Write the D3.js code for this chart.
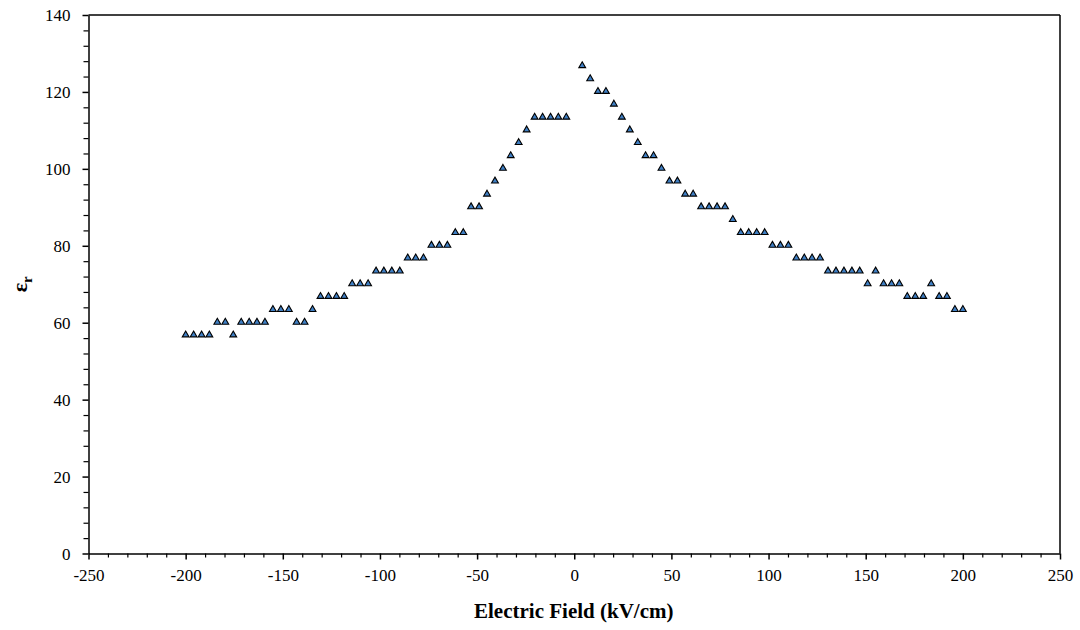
<!DOCTYPE html>
<html>
<head>
<meta charset="utf-8">
<script src="https://cdn.jsdelivr.net/npm/d3@7"></script>
<style>
  html, body { margin: 0; padding: 0; background: #fff; }
  #chart text { font-family: "Liberation Serif" !important; }
</style>
</head>
<body>
<svg id="chart" width="1080" height="630"></svg>
<script>
// Applied field sweep (kV/cm), negative branch
const fieldNeg = [-200, -195.9, -191.8, -187.8, -183.7, -179.6, -175.5, -171.4, -167.3, -163.3,
  -159.2, -155.1, -151.0, -146.9, -142.9, -138.8, -134.7, -130.6, -126.5, -122.4,
  -118.4, -114.3, -110.2, -106.1, -102.0, -98.0, -93.9, -89.8, -85.7, -81.6,
  -77.6, -73.5, -69.4, -65.3, -61.2, -57.1, -53.1, -49.0, -44.9, -40.8,
  -36.7, -32.7, -28.6, -24.5, -20.4, -16.3, -12.2, -8.2, -4.1];
// Relative permittivity on the negative branch
const epsNeg = [56.7, 56.7, 56.7, 56.7, 60.0, 60.0, 56.7, 60.0, 60.0, 60.0,
  60.0, 63.3, 63.3, 63.3, 60.0, 60.0, 63.3, 66.7, 66.7, 66.7,
  66.7, 70.0, 70.0, 70.0, 73.3, 73.3, 73.3, 73.3, 76.7, 76.7,
  76.7, 80.0, 80.0, 80.0, 83.3, 83.3, 90.0, 90.0, 93.3, 96.7,
  100.0, 103.3, 106.7, 110.0, 113.3, 113.3, 113.3, 113.3, 113.3];

// Applied field sweep (kV/cm), positive branch
const fieldPos = [4.1, 8.2, 12.2, 16.3, 20.4, 24.5, 28.6, 32.7, 36.7, 40.8,
  44.9, 49.0, 53.1, 57.1, 61.2, 65.3, 69.4, 73.5, 77.6, 81.6,
  85.7, 89.8, 93.9, 98.0, 102.0, 106.1, 110.2, 114.3, 118.4, 122.4,
  126.5, 130.6, 134.7, 138.8, 142.9, 146.9, 151.0, 155.1, 159.2, 163.3,
  167.3, 171.4, 175.5, 179.6, 183.7, 187.8, 191.8, 195.9, 200];
// Relative permittivity on the positive branch
const epsPos = [126.7, 123.3, 120.0, 120.0, 116.7, 113.3, 110.0, 106.7, 103.3, 103.3,
  100.0, 96.7, 96.7, 93.3, 93.3, 90.0, 90.0, 90.0, 90.0, 86.7,
  83.3, 83.3, 83.3, 83.3, 80.0, 80.0, 80.0, 76.7, 76.7, 76.7,
  76.7, 73.3, 73.3, 73.3, 73.3, 73.3, 70.0, 73.3, 70.0, 70.0,
  70.0, 66.7, 66.7, 66.7, 70.0, 66.7, 66.7, 63.3, 63.3];

// Axis ticks
const xTicks = [-250, -200, -150, -100, -50, 0, 50, 100, 150, 200, 250];
const yTicks = [0, 20, 40, 60, 80, 100, 120, 140];

const xTitle = "Electric Field (kV/cm)";

const points = fieldNeg.map((f, i) => ({ x: f, y: epsNeg[i] }))
  .concat(fieldPos.map((f, i) => ({ x: f, y: epsPos[i] })));

const svg = d3.select("#chart");
const plotL = 88.5, plotR = 1060, plotT = 15, plotB = 553.5;

const x = d3.scaleLinear().domain([-250, 250]).range([plotL, plotR]);
const y = d3.scaleLinear().domain([0, 140]).range([plotB, plotT]);

// Minor ticks
const xMinor = d3.range(-250, 251, 10).filter(v => !xTicks.includes(v));
const yMinor = d3.range(0, 141, 4).filter(v => !yTicks.includes(v));

svg.append("g")
  .attr("transform", `translate(0,${plotB})`)
  .call(d3.axisBottom(x).tickValues(xMinor).tickSize(4).tickFormat(""))
  .call(g => g.select(".domain").remove())
  .call(g => g.selectAll("text").remove())
  .selectAll("line").attr("stroke", "#000").attr("stroke-width", 1.2);

svg.append("g")
  .attr("transform", `translate(${plotL},0)`)
  .call(d3.axisLeft(y).tickValues(yMinor).tickSize(5).tickFormat(""))
  .call(g => g.select(".domain").remove())
  .call(g => g.selectAll("text").remove())
  .selectAll("line").attr("stroke", "#000").attr("stroke-width", 1.2);

// Major axes
const xAxis = svg.append("g")
  .attr("transform", `translate(0,${plotB})`)
  .call(d3.axisBottom(x).tickValues(xTicks).tickSize(6).tickPadding(9).tickSizeOuter(0).tickFormat(d => String(d)));
const yAxis = svg.append("g")
  .attr("transform", `translate(${plotL},0)`)
  .call(d3.axisLeft(y).tickValues(yTicks).tickSize(6).tickPadding(12).tickSizeOuter(0).tickFormat(d => String(d)));

[xAxis, yAxis].forEach(g => {
  g.attr("font-family", "Liberation Serif").attr("font-size", 17);
  g.select(".domain").attr("stroke", "#000").attr("stroke-width", 1.5);
  g.selectAll(".tick line").attr("stroke", "#000").attr("stroke-width", 1.5);
  g.selectAll(".tick text")
    .attr("fill", "#000")
    .attr("font-family", "Liberation Serif")
    .style("font-family", d => `"Liberation Serif"`)
    .style("font-size", "17px");
});
xAxis.selectAll(".tick text").attr("dy", "0.71em");
yAxis.selectAll(".tick text").attr("dy", "0.35em");

// Top and right frame
svg.append("line").attr("x1", plotL).attr("x2", plotR).attr("y1", plotT).attr("y2", plotT)
  .attr("stroke", "#000").attr("stroke-width", 1.5);
svg.append("line").attr("x1", plotR).attr("x2", plotR).attr("y1", plotT).attr("y2", plotB)
  .attr("stroke", "#000").attr("stroke-width", 1.5);

// Data markers: small triangles
const tri = d3.symbol().type(d3.symbolTriangle).size(20);
svg.append("g").selectAll("path")
  .data(points)
  .join("path")
  .attr("d", tri)
  .attr("transform", d => `translate(${x(d.x)},${y(d.y) - 0.5})`)
  .attr("fill", "#3f7fc4")
  .attr("stroke", "#000")
  .attr("stroke-width", 1.1)
  .attr("stroke-linejoin", "miter");

// Axis titles
svg.append("text")
  .attr("x", (plotL + plotR) / 2 - 0.5)
  .attr("y", 618)
  .attr("text-anchor", "middle")
  .attr("font-family", "Liberation Serif")
  .style("font-family", d => `"Liberation Serif"`)
  .style("font-size", "21px")
  .style("font-weight", "bold")
  .text(xTitle);

const yTitle = svg.append("text")
  .attr("transform", `translate(27,${(plotT + plotB) / 2}) rotate(-90)`)
  .attr("text-anchor", "middle")
  .attr("font-family", "Liberation Serif")
  .style("font-family", d => `"Liberation Serif"`)
  .style("font-size", "22px")
  .style("font-weight", "bold");
yTitle.append("tspan").text("ε");
yTitle.append("tspan").attr("dy", 5).style("font-size", "15px").text("r");
</script>
</body>
</html>
